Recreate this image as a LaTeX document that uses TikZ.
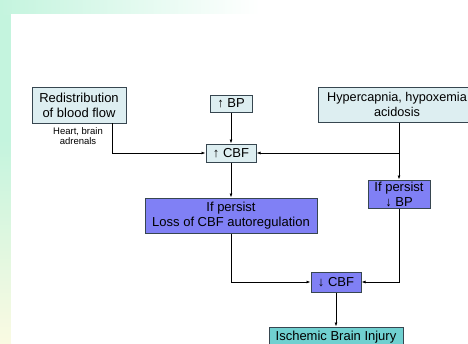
\documentclass[tikz,border=0pt]{standalone}
\usepackage{fontspec}
\setmainfont{Liberation Sans}
\usetikzlibrary{arrows.meta}
\definecolor{boxpale}{RGB}{221,238,241}
\definecolor{boxpurple}{RGB}{128,128,245}
\definecolor{boxteal}{RGB}{112,208,208}
\definecolor{boxline}{RGB}{55,70,80}
\definecolor{mint}{RGB}{196,244,222}
\definecolor{cream}{RGB}{250,250,226}
\begin{document}
\begin{tikzpicture}[x=1pt, y=-1pt,
	box/.style={draw=boxline, line width=1pt, inner sep=0pt, align=center,
	  font=\fontsize{13}{15}\selectfont},
	pale box/.style={box, fill=boxpale},
	purple box/.style={box, fill=boxpurple},
	teal box/.style={box, fill=boxteal},
	link/.style={line width=0.8pt, -{Latex[length=4pt,width=3pt]}}]
		\useasboundingbox (0,0) rectangle (468,343);
		\clip (0,0) rectangle (468,343);
		% slide background
		\fill[mint] (0,0) rectangle (11,140);
		\shade[top color=mint, bottom color=cream] (0,140) rectangle (11,343);
		\shade[left color=mint, middle color=cream, right color=white] (0,0) rectangle (260,14);
		\fill[white] (11,14) rectangle (468,343);
		% boxes
		\node[pale box, minimum width=94, minimum height=36] (redist) at (79,105) {Redistribution\\of blood flow};
		\node[align=center, font=\fontsize{9.5}{10}\selectfont] (organs) at (78,136) {Heart, brain\\adrenals};
		\node[pale box, minimum width=42, minimum height=17] (bpup) at (231,103.5) {↑ BP};
		\node[pale box, minimum width=50, minimum height=18] (cbfup) at (231,153) {↑ CBF};
		\node[pale box, minimum width=158, minimum height=35, font=\fontsize{12.7}{15}\selectfont] (hyper) at (397,104.5) {Hypercapnia, hypoxemia\\acidosis};
		\node[purple box, minimum width=62, minimum height=28] (bpdown) at (399,194) {If persist\\↓ BP};
		\node[purple box, minimum width=172, minimum height=35] (loss) at (231,215.5) {If persist\\Loss of CBF autoregulation};
		\node[purple box, minimum width=50, minimum height=20] (cbfdown) at (336,282) {↓ CBF};
		\node[teal box, minimum width=134, minimum height=20] (injury) at (336,337) {Ischemic Brain Injury};
		% connectors
		\coordinate (redistout) at (112,123);
		\coordinate (split) at (bpdown |- cbfup);
		\draw[link] (redistout) |- (cbfup.west);
		\draw[link] (bpup) -- (cbfup);
		\draw[link] (hyper.south -| bpdown) -- (bpdown);
		\draw[link] (split) -- (cbfup.east);
		\draw[link] (cbfup) -- (loss);
		\draw[link] (loss.south) |- (cbfdown.west);
		\draw[link] (bpdown.south) |- (cbfdown.east);
		\draw[link] (cbfdown) -- (injury);
	\end{tikzpicture}
\end{document}
